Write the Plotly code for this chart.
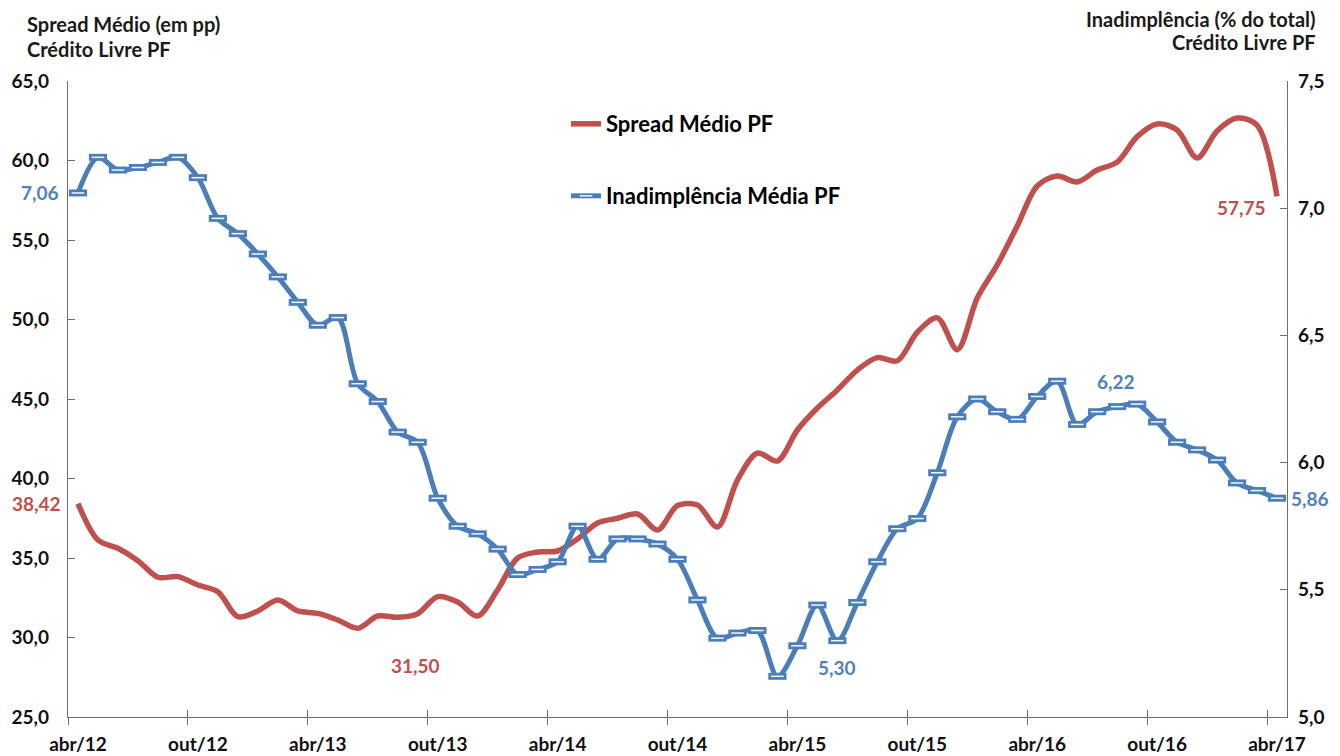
import plotly.graph_objects as go

months = [
    'abr/12', 'mai/12', 'jun/12', 'jul/12', 'ago/12', 'set/12', 'out/12', 'nov/12', 'dez/12',
    'jan/13', 'fev/13', 'mar/13', 'abr/13', 'mai/13', 'jun/13', 'jul/13', 'ago/13', 'set/13',
    'out/13', 'nov/13', 'dez/13', 'jan/14', 'fev/14', 'mar/14', 'abr/14', 'mai/14', 'jun/14',
    'jul/14', 'ago/14', 'set/14', 'out/14', 'nov/14', 'dez/14', 'jan/15', 'fev/15', 'mar/15',
    'abr/15', 'mai/15', 'jun/15', 'jul/15', 'ago/15', 'set/15', 'out/15', 'nov/15', 'dez/15',
    'jan/16', 'fev/16', 'mar/16', 'abr/16', 'mai/16', 'jun/16', 'jul/16', 'ago/16', 'set/16',
    'out/16', 'nov/16', 'dez/16', 'jan/17', 'fev/17', 'mar/17', 'abr/17',
]

spread = [
    38.42, 36.13, 35.61, 34.83, 33.79, 33.83, 33.30, 32.88, 31.31, 31.67,
    32.36, 31.67, 31.52, 31.10, 30.58, 31.35, 31.27, 31.50, 32.57, 32.23,
    31.35, 33.00, 35.00, 35.38, 35.44, 36.20, 37.20, 37.50, 37.77, 36.76,
    38.30, 38.33, 36.95, 39.90, 41.60, 41.10, 43.05, 44.43, 45.57, 46.82,
    47.60, 47.40, 49.20, 50.10, 48.10, 51.35, 53.43, 55.88, 58.40, 59.03,
    58.65, 59.40, 59.90, 61.50, 62.30, 61.92, 60.16, 61.86, 62.67, 62.23,
    57.75,
]

inad = [
    7.06, 7.20, 7.15, 7.16, 7.18, 7.20, 7.12, 6.96, 6.90, 6.82,
    6.73, 6.63, 6.54, 6.57, 6.31, 6.24, 6.12, 6.08, 5.86, 5.75,
    5.72, 5.66, 5.56, 5.58, 5.61, 5.75, 5.62, 5.70, 5.70, 5.68,
    5.62, 5.46, 5.31, 5.33, 5.34, 5.16, 5.28, 5.44, 5.30, 5.45,
    5.61, 5.74, 5.78, 5.96, 6.18, 6.25, 6.20, 6.17, 6.26, 6.32,
    6.15, 6.20, 6.22, 6.23, 6.16, 6.08, 6.05, 6.01, 5.92, 5.89,
    5.86,
]

tick_labels = ['abr/12', 'out/12', 'abr/13', 'out/13', 'abr/14', 'out/14',
               'abr/15', 'out/15', 'abr/16', 'out/16', 'abr/17']

# labelled points: (month, xshift, yshift, xanchor)
spread_labels = [('abr/12', -15, 0, 'right'), ('set/13', -2, -52, 'center'), ('abr/17', -36, -11, 'center')]
inad_labels = [('abr/12', -17, 0, 'right'), ('jun/15', 0, -27, 'center'),
               ('ago/16', -1, 25, 'center'), ('abr/17', 12, 0, 'left')]

RED = '#C0504D'
BLUE = '#4A7EBB'
BLUE_TXT = '#4F81BD'
FONT = 'Lato'
AX = '#6f6f6f'

x = list(range(len(months)))

fig = go.Figure()

fig.add_trace(go.Scatter(
    x=x, y=spread, mode='lines', name='Spread Médio PF',
    line=dict(color=RED, width=5.5, shape='spline', smoothing=0.9),
    xaxis='x', yaxis='y', legend='legend', hoverinfo='skip'))

fig.add_trace(go.Scatter(
    x=x, y=inad, mode='markers', showlegend=False,
    marker=dict(symbol='line-ew', size=13, color=BLUE, line=dict(color=BLUE, width=7)),
    xaxis='x2', yaxis='y2', hoverinfo='skip'))

fig.add_trace(go.Scatter(
    x=x, y=inad, mode='lines+markers', name='Inadimplência Média PF',
    line=dict(color=BLUE, width=5, shape='spline', smoothing=0.9),
    marker=dict(symbol='line-ew', size=9, color='white', line=dict(color='#f4f7fb', width=1.5)),
    xaxis='x3', yaxis='y2', legend='legend2', hoverinfo='skip'))

annotations = []
for m, dx, dy, xa in spread_labels:
    i = months.index(m)
    annotations.append(dict(x=i, y=spread[i], xref='x', yref='y', text=f"{spread[i]:.2f}".replace('.', ','),
                            showarrow=False, xshift=dx, yshift=dy, xanchor=xa,
                            font=dict(family=FONT, size=19, color=RED, weight='bold')))
for m, dx, dy, xa in inad_labels:
    i = months.index(m)
    annotations.append(dict(x=i, y=inad[i], xref='x', yref='y2', text=f"{inad[i]:.2f}".replace('.', ','),
                            showarrow=False, xshift=dx, yshift=dy, xanchor=xa,
                            font=dict(family=FONT, size=19, color=BLUE_TXT, weight='bold')))

title_font = dict(family=FONT, size=20, color='#1a1a1a', weight='bold')
annotations += [
    dict(text='Spread Médio (em pp)', x=-0.0353, y=(717 - 24) / 636, xref='paper', yref='paper',
         xanchor='left', yanchor='middle', showarrow=False, font=title_font),
    dict(text='Crédito Livre PF', x=-0.0353, y=(717 - 49) / 636, xref='paper', yref='paper',
         xanchor='left', yanchor='middle', showarrow=False, font=title_font),
    dict(text='Inadimplência (% do total)', x=1.0254, y=(717 - 19) / 636, xref='paper', yref='paper',
         xanchor='right', yanchor='middle', showarrow=False, font=title_font),
    dict(text='Crédito Livre PF', x=1.0254, y=(717 - 42) / 636, xref='paper', yref='paper',
         xanchor='right', yanchor='middle', showarrow=False, font=title_font),
]

tick_font = dict(family=FONT, size=19, color='#111111', weight='bold')
tick_pos = [months.index(t) for t in tick_labels]
bound_pos = [p - 0.5 for p in tick_pos]
xr = [-0.5, len(months) - 0.5]

fig.update_layout(
    width=1340, height=756,
    margin=dict(l=68, r=53, t=81, b=39, autoexpand=False),
    paper_bgcolor='white', plot_bgcolor='white',
    separators=',.',
    annotations=annotations,
    xaxis=dict(range=xr, tickmode='array', tickvals=tick_pos, ticktext=tick_labels,
               ticks='', showline=True, linecolor=AX, linewidth=1.3, showgrid=False, zeroline=False,
               tickfont=tick_font, ticklabelstandoff=10, automargin=False),
    xaxis2=dict(overlaying='x', range=xr, tickmode='array', tickvals=bound_pos,
                ticks='outside', ticklen=7, tickcolor=AX, tickwidth=1.3, showticklabels=False,
                showgrid=False, zeroline=False, showline=False, anchor='y2', side='bottom',
                automargin=False, position=0),
    xaxis3=dict(overlaying='x', range=xr, tickmode='array', tickvals=bound_pos,
                ticks='inside', ticklen=7, tickcolor=AX, tickwidth=1.3, showticklabels=False,
                showgrid=False, zeroline=False, showline=False, anchor='y2', side='bottom',
                automargin=False),
    yaxis=dict(range=[25, 65], dtick=5, tick0=25, tickformat='.1f', ticks='inside', ticklen=7,
               tickcolor=AX, tickwidth=1.3, showline=True, linecolor=AX, linewidth=1.3, showgrid=False,
               zeroline=False, tickfont=tick_font, ticklabelstandoff=14, automargin=False),
    yaxis2=dict(range=[5, 7.5], dtick=0.5, tick0=5, tickformat='.1f', ticks='inside', ticklen=7,
                tickcolor=AX, tickwidth=1.3, showline=True, linecolor=AX, linewidth=1.3, showgrid=False,
                zeroline=False, overlaying='y', side='right', anchor='x', tickfont=tick_font,
                ticklabelstandoff=6, automargin=False),
    legend=dict(x=(566 - 68) / 1219, y=(717 - 124) / 636, xanchor='left', yanchor='middle',
                bgcolor='rgba(0,0,0,0)', font=dict(family=FONT, size=22, color='black', weight='bold')),
    legend2=dict(x=(566 - 68) / 1219, y=(717 - 196) / 636, xanchor='left', yanchor='middle',
                 bgcolor='rgba(0,0,0,0)', font=dict(family=FONT, size=22, color='black', weight='bold')),
)

fig.write_html('out.html', config={'displayModeBar': False},
               post_script=["document.body.style.margin='0px';document.body.style.overflow='hidden';"])
